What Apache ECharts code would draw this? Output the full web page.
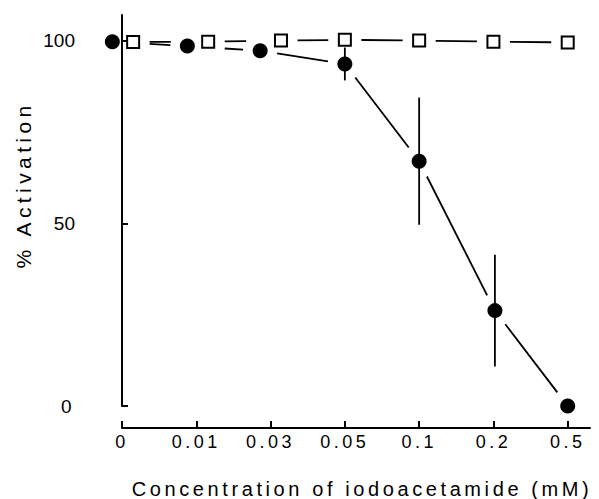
<!DOCTYPE html>
<html>
<head>
<meta charset="utf-8">
<script src="https://cdn.jsdelivr.net/npm/echarts@6/dist/echarts.min.js"></script>
<style>
html,body{margin:0;padding:0;background:#fff;}
#chart{width:599px;height:499px;}
</style>
</head>
<body>
<div id="chart"></div>
<script>
// Category tick labels (x axis, evenly spaced)
const categories = ['0', '0.01', '0.03', '0.05', '0.1', '0.2', '0.5'];
const categoryPos = [0, 1, 2, 3, 4, 5, 6];
// Filled circles (plotted slightly dodged left at the first three concentrations)
const circleX = [-0.13, 0.88, 1.86, 3.0, 4.0, 5.02, 6.0];
const circleY = [99.7, 98.5, 97.2, 93.6, 67.0, 26.1, 0];
const circleErr = [0, 0, 0, 4.5, 17.4, 15.3, 0];
// Open squares (dodged right at the first three concentrations)
const squareX = [0.15, 1.16, 2.14, 3.0, 4.0, 5.0, 6.0];
const squareY = [99.6, 99.7, 100, 100.2, 100, 99.7, 99.5];
// Y ticks
const yTicks = [0, 50, 100];

const xTitle = 'Concentration of iodoacetamide (mM)';
const yTitle = '% Activation';

const circlePts = circleX.map((x, i) => [x, circleY[i]]);
const squarePts = squareX.map((x, i) => [x, squareY[i]]);
const errData = circleX.map((x, i) => [x, circleY[i] - circleErr[i], circleY[i] + circleErr[i]])
  .filter((d, i) => circleErr[i] > 0);
const segOf = pts => pts.slice(1).map((p, i) => [pts[i][0], pts[i][1], p[0], p[1]]);
const segments = segOf(circlePts).concat(segOf(squarePts));

const chart = echarts.init(document.getElementById('chart'), null, {renderer: 'svg'});
const black = '#000';
const font = 'Liberation Sans';

// connecting lines stop short of the markers (gap around each symbol)
const CIRCLE_GAP = 17, SQ_HW = 16.5, SQ_HH = 10;
function renderSegment(params, api) {
  const a = api.coord([api.value(0), api.value(1)]);
  const b = api.coord([api.value(2), api.value(3)]);
  const cs = circlePts.map(p => api.coord(p));
  const ss = squarePts.map(p => api.coord(p));
  const hidden = (x, y) => cs.some(c => (x - c[0]) ** 2 + (y - c[1]) ** 2 < CIRCLE_GAP * CIRCLE_GAP) ||
    ss.some(s => Math.abs(x - s[0]) < SQ_HW && Math.abs(y - s[1]) < SQ_HH);
  const N = 400, children = [];
  let start = null;
  for (let k = 0; k <= N; k++) {
    const t = k / N, x = a[0] + (b[0] - a[0]) * t, y = a[1] + (b[1] - a[1]) * t;
    const vis = !hidden(x, y);
    if (vis && start === null) start = [x, y];
    if ((!vis || k === N) && start !== null) {
      const end = vis ? [x, y] : [a[0] + (b[0] - a[0]) * (k - 1) / N, a[1] + (b[1] - a[1]) * (k - 1) / N];
      children.push({type: 'line', shape: {x1: start[0], y1: start[1], x2: end[0], y2: end[1]}, style: {stroke: black, lineWidth: 1.8}});
      start = null;
    }
  }
  return {type: 'group', children};
}

const option = {
  animation: false,
  backgroundColor: '#fff',
  grid: [
    {left: 83, right: 9, top: 15, bottom: 93},
    {left: 122, right: 9, top: 15, bottom: 71}
  ],
  xAxis: [
    {gridIndex: 0, type: 'value', min: -39 / 74.29, max: 6.3, show: false},
    {
      gridIndex: 1, type: 'value', min: 0, max: 6.3,
      axisLine: {show: true, lineStyle: {color: black, width: 2}},
      axisTick: {show: true, inside: true, length: 7, customValues: categoryPos, lineStyle: {color: black, width: 2}},
      axisLabel: {customValues: categoryPos, formatter: v => categories[Math.round(v)], color: black, fontSize: 18, fontFamily: font, margin: 5},
      splitLine: {show: false}
    }
  ],
  yAxis: [
    {
      gridIndex: 0, type: 'value', min: 0, max: 107,
      axisLine: {show: true, lineStyle: {color: black, width: 2}},
      axisTick: {show: true, inside: true, length: 6, customValues: yTicks, lineStyle: {color: black, width: 2}},
      axisLabel: {customValues: yTicks, color: black, fontSize: 19, fontFamily: font, margin: 8},
      splitLine: {show: false}
    },
    {gridIndex: 1, type: 'value', show: false}
  ],
  graphic: [
    {type: 'text', x: 362, y: 489, style: {text: xTitle, font: '20px "Liberation Sans"', fill: black, textAlign: 'center', textVerticalAlign: 'middle'}},
    {type: 'text', x: 23, y: 185, rotation: Math.PI / 2, style: {text: yTitle, font: '21px "Liberation Sans"', fill: black, textAlign: 'center', textVerticalAlign: 'middle'}}
  ],
  series: [
    {type: 'custom', data: segments, z: 2, silent: true, clip: false, renderItem: renderSegment, encode: {x: [0, 2], y: [1, 3]}},
    {
      type: 'custom', data: errData, z: 4, silent: true,
      renderItem: (params, api) => {
        const p1 = api.coord([api.value(0), api.value(1)]);
        const p2 = api.coord([api.value(0), api.value(2)]);
        return {type: 'line', shape: {x1: p1[0], y1: p1[1], x2: p2[0], y2: p2[1]}, style: {stroke: black, lineWidth: 1.8}};
      },
      encode: {x: 0, y: [1, 2]}
    },
    {type: 'scatter', data: circlePts, symbol: 'circle', symbolSize: 15, itemStyle: {color: black, opacity: 1}, z: 5, silent: true},
    {type: 'scatter', data: squarePts, symbol: 'rect', symbolSize: 12, itemStyle: {color: '#fff', borderColor: black, borderWidth: 2, opacity: 1}, z: 5, silent: true}
  ]
};
chart.setOption(option);

function spaceTitles() {
  document.querySelectorAll('#chart text').forEach(t => {
    const s = t.textContent;
    if (s === xTitle) t.setAttribute('letter-spacing', '3.6');
    else if (s === yTitle) t.setAttribute('letter-spacing', '4.4');
    else if (categories.indexOf(s) >= 0) t.setAttribute('letter-spacing', '3.5');
  });
}
spaceTitles();
chart.on('finished', spaceTitles);
</script>
</body>
</html>
